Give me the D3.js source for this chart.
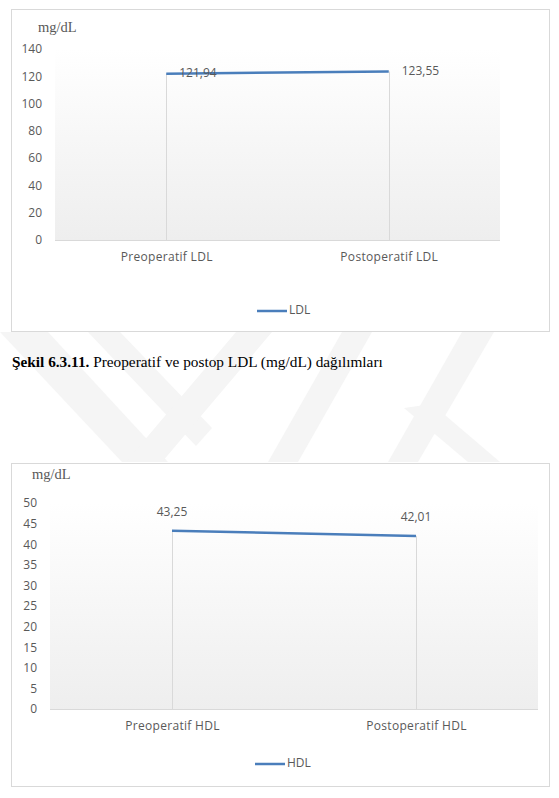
<!DOCTYPE html>
<html>
<head>
<meta charset="utf-8">
<script src="https://cdn.jsdelivr.net/npm/d3@7/dist/d3.min.js"></script>
<style>
  html, body { margin: 0; padding: 0; background: #ffffff; }
  svg { display: block; }
</style>
</head>
<body>
<svg id="page" width="559" height="798"></svg>
<script>
// ---------- DATA ----------
const ldlCategories = ["Preoperatif LDL", "Postoperatif LDL"];
const ldlValues = [121.94, 123.55];
const ldlTicks = [0, 20, 40, 60, 80, 100, 120, 140];
const ldlSeriesName = "LDL";

const hdlCategories = ["Preoperatif HDL", "Postoperatif HDL"];
const hdlValues = [43.25, 42.01];
const hdlTicks = [0, 5, 10, 15, 20, 25, 30, 35, 40, 45, 50];
const hdlSeriesName = "HDL";

const unitLabel = "mg/dL";
const captionBold = "Şekil 6.3.11.";
const captionText = " Preoperatif ve postop LDL (mg/dL) dağılımları";

// ---------- DRAWING ----------
const svg = d3.select("#page");
const FONT = "'Open Sans', sans-serif";
const TEXT = "#595959";
const LINE = "#4a7ebb";
const GRID = "#d9d9d9";

const defs = svg.append("defs");
const grad = defs.append("linearGradient").attr("id", "plotGrad")
  .attr("x1", 0).attr("y1", 0).attr("x2", 0).attr("y2", 1);
grad.append("stop").attr("offset", "0%").attr("stop-color", "#ffffff");
grad.append("stop").attr("offset", "100%").attr("stop-color", "#eeeeee");

// watermark (faint chevrons) in the gap between the charts
const wm = svg.append("g").attr("fill", "#f5f5f5");
const wmShapes = [
  [[0,332],[48,332],[168,462],[122,462]],
  [[88,332],[120,332],[212,428],[196,446]],
  [[126,462],[162,462],[272,332],[236,332]],
  [[268,462],[298,462],[372,332],[342,332]],
  [[388,462],[418,462],[494,332],[462,332]],
  [[404,408],[432,404],[500,462],[468,462]]
];
wmShapes.forEach(p => wm.append("polygon").attr("points", p.map(q => q.join(",")).join(" ")));

function drawChart(cfg) {
  const g = svg.append("g");
  g.append("rect").attr("x", cfg.box[0] + 0.5).attr("y", cfg.box[1] + 0.5)
    .attr("width", cfg.box[2] - cfg.box[0]).attr("height", cfg.box[3] - cfg.box[1])
    .attr("fill", "#ffffff").attr("stroke", GRID).attr("stroke-width", 1);

  const x = d3.scalePoint().domain(cfg.categories).range([cfg.plotLeft, cfg.plotRight]).padding(0.5);
  const y = d3.scaleLinear().domain([0, d3.max(cfg.ticks)]).range([cfg.y0, cfg.yTop]);

  g.append("rect").attr("x", cfg.plotLeft).attr("y", y(d3.max(cfg.ticks)))
    .attr("width", cfg.plotRight - cfg.plotLeft).attr("height", cfg.y0 - y(d3.max(cfg.ticks)))
    .attr("fill", "url(#plotGrad)");

  const yAxis = d3.axisLeft(y).tickValues(cfg.ticks).tickSize(0).tickPadding(0);
  const ya = g.append("g").attr("transform", `translate(${cfg.tickRight},0)`).call(yAxis);
  ya.select(".domain").remove();
  ya.selectAll("text").attr("font-family", FONT).attr("font-size", cfg.fs).attr("fill", TEXT);

  const xAxis = d3.axisBottom(x).tickSize(0).tickPadding(0);
  const xa = g.append("g").attr("transform", `translate(0,${cfg.y0})`).call(xAxis);
  xa.select(".domain").attr("stroke", GRID).attr("stroke-width", 1)
    .attr("d", `M${cfg.plotLeft},0.5H${cfg.plotRight}`);
  xa.selectAll("text").attr("font-family", FONT).attr("font-size", cfg.fs).attr("fill", TEXT)
    .attr("letter-spacing", 0.3)
    .attr("dy", null).attr("y", cfg.catLabelY - cfg.y0).attr("dominant-baseline", "middle");

  const pts = cfg.categories.map((c, i) => [x(c), y(cfg.values[i])]);

  g.selectAll(".drop").data(pts).enter().append("line")
    .attr("x1", d => Math.round(d[0]) + 0.5).attr("x2", d => Math.round(d[0]) + 0.5)
    .attr("y1", d => d[1]).attr("y2", cfg.y0)
    .attr("stroke", GRID).attr("stroke-width", 1);

  g.append("path").datum(pts).attr("d", d3.line())
    .attr("fill", "none").attr("stroke", LINE).attr("stroke-width", 2.5);

  const fmt = v => d3.format(".2f")(v).replace(".", ",");
  g.selectAll(".dl").data(cfg.values).enter().append("text")
    .attr("x", (d, i) => pts[i][0] + cfg.labelDx)
    .attr("y", (d, i) => pts[i][1] + cfg.labelDy)
    .attr("text-anchor", cfg.labelAnchor)
    .attr("dominant-baseline", "middle")
    .attr("font-family", FONT).attr("font-size", cfg.fs).attr("fill", TEXT)
    .text(fmt);

  g.append("text").attr("x", cfg.unitX).attr("y", cfg.unitY)
    .attr("font-family", "'Liberation Serif', 'Times New Roman', serif")
    .attr("font-size", 14.5).attr("fill", TEXT).text(unitLabel);

  g.append("line").attr("x1", cfg.legX).attr("x2", cfg.legX + 30)
    .attr("y1", cfg.legY).attr("y2", cfg.legY)
    .attr("stroke", LINE).attr("stroke-width", 2.5);
  g.append("text").attr("x", cfg.legX + 32).attr("y", cfg.legY)
    .attr("dominant-baseline", "middle")
    .attr("font-family", FONT).attr("font-size", cfg.fs).attr("fill", TEXT)
    .text(cfg.seriesName);
}

drawChart({
  box: [11, 9, 549, 331],
  categories: ldlCategories, values: ldlValues, ticks: ldlTicks, seriesName: ldlSeriesName,
  plotLeft: 55, plotRight: 500, y0: 240, yTop: 49,
  tickRight: 42, catLabelY: 258, fs: 12,
  labelDx: 13, labelDy: 0, labelAnchor: "start",
  unitX: 38, unitY: 32, legX: 257, legY: 311
});

drawChart({
  box: [11, 463, 549, 786],
  categories: hdlCategories, values: hdlValues, ticks: hdlTicks, seriesName: hdlSeriesName,
  plotLeft: 50, plotRight: 538, y0: 709, yTop: 503,
  tickRight: 37, catLabelY: 727, fs: 12,
  labelDx: 0, labelDy: -18, labelAnchor: "middle",
  unitX: 32, unitY: 479, legX: 255, legY: 764
});

const cap = svg.append("text").attr("x", 12).attr("y", 367)
  .attr("font-family", "'Liberation Serif', 'Times New Roman', serif")
  .attr("font-size", 15.3).attr("fill", "#000000");
cap.append("tspan").attr("font-weight", "bold").text(captionBold);
cap.append("tspan").text(captionText);
</script>
</body>
</html>
